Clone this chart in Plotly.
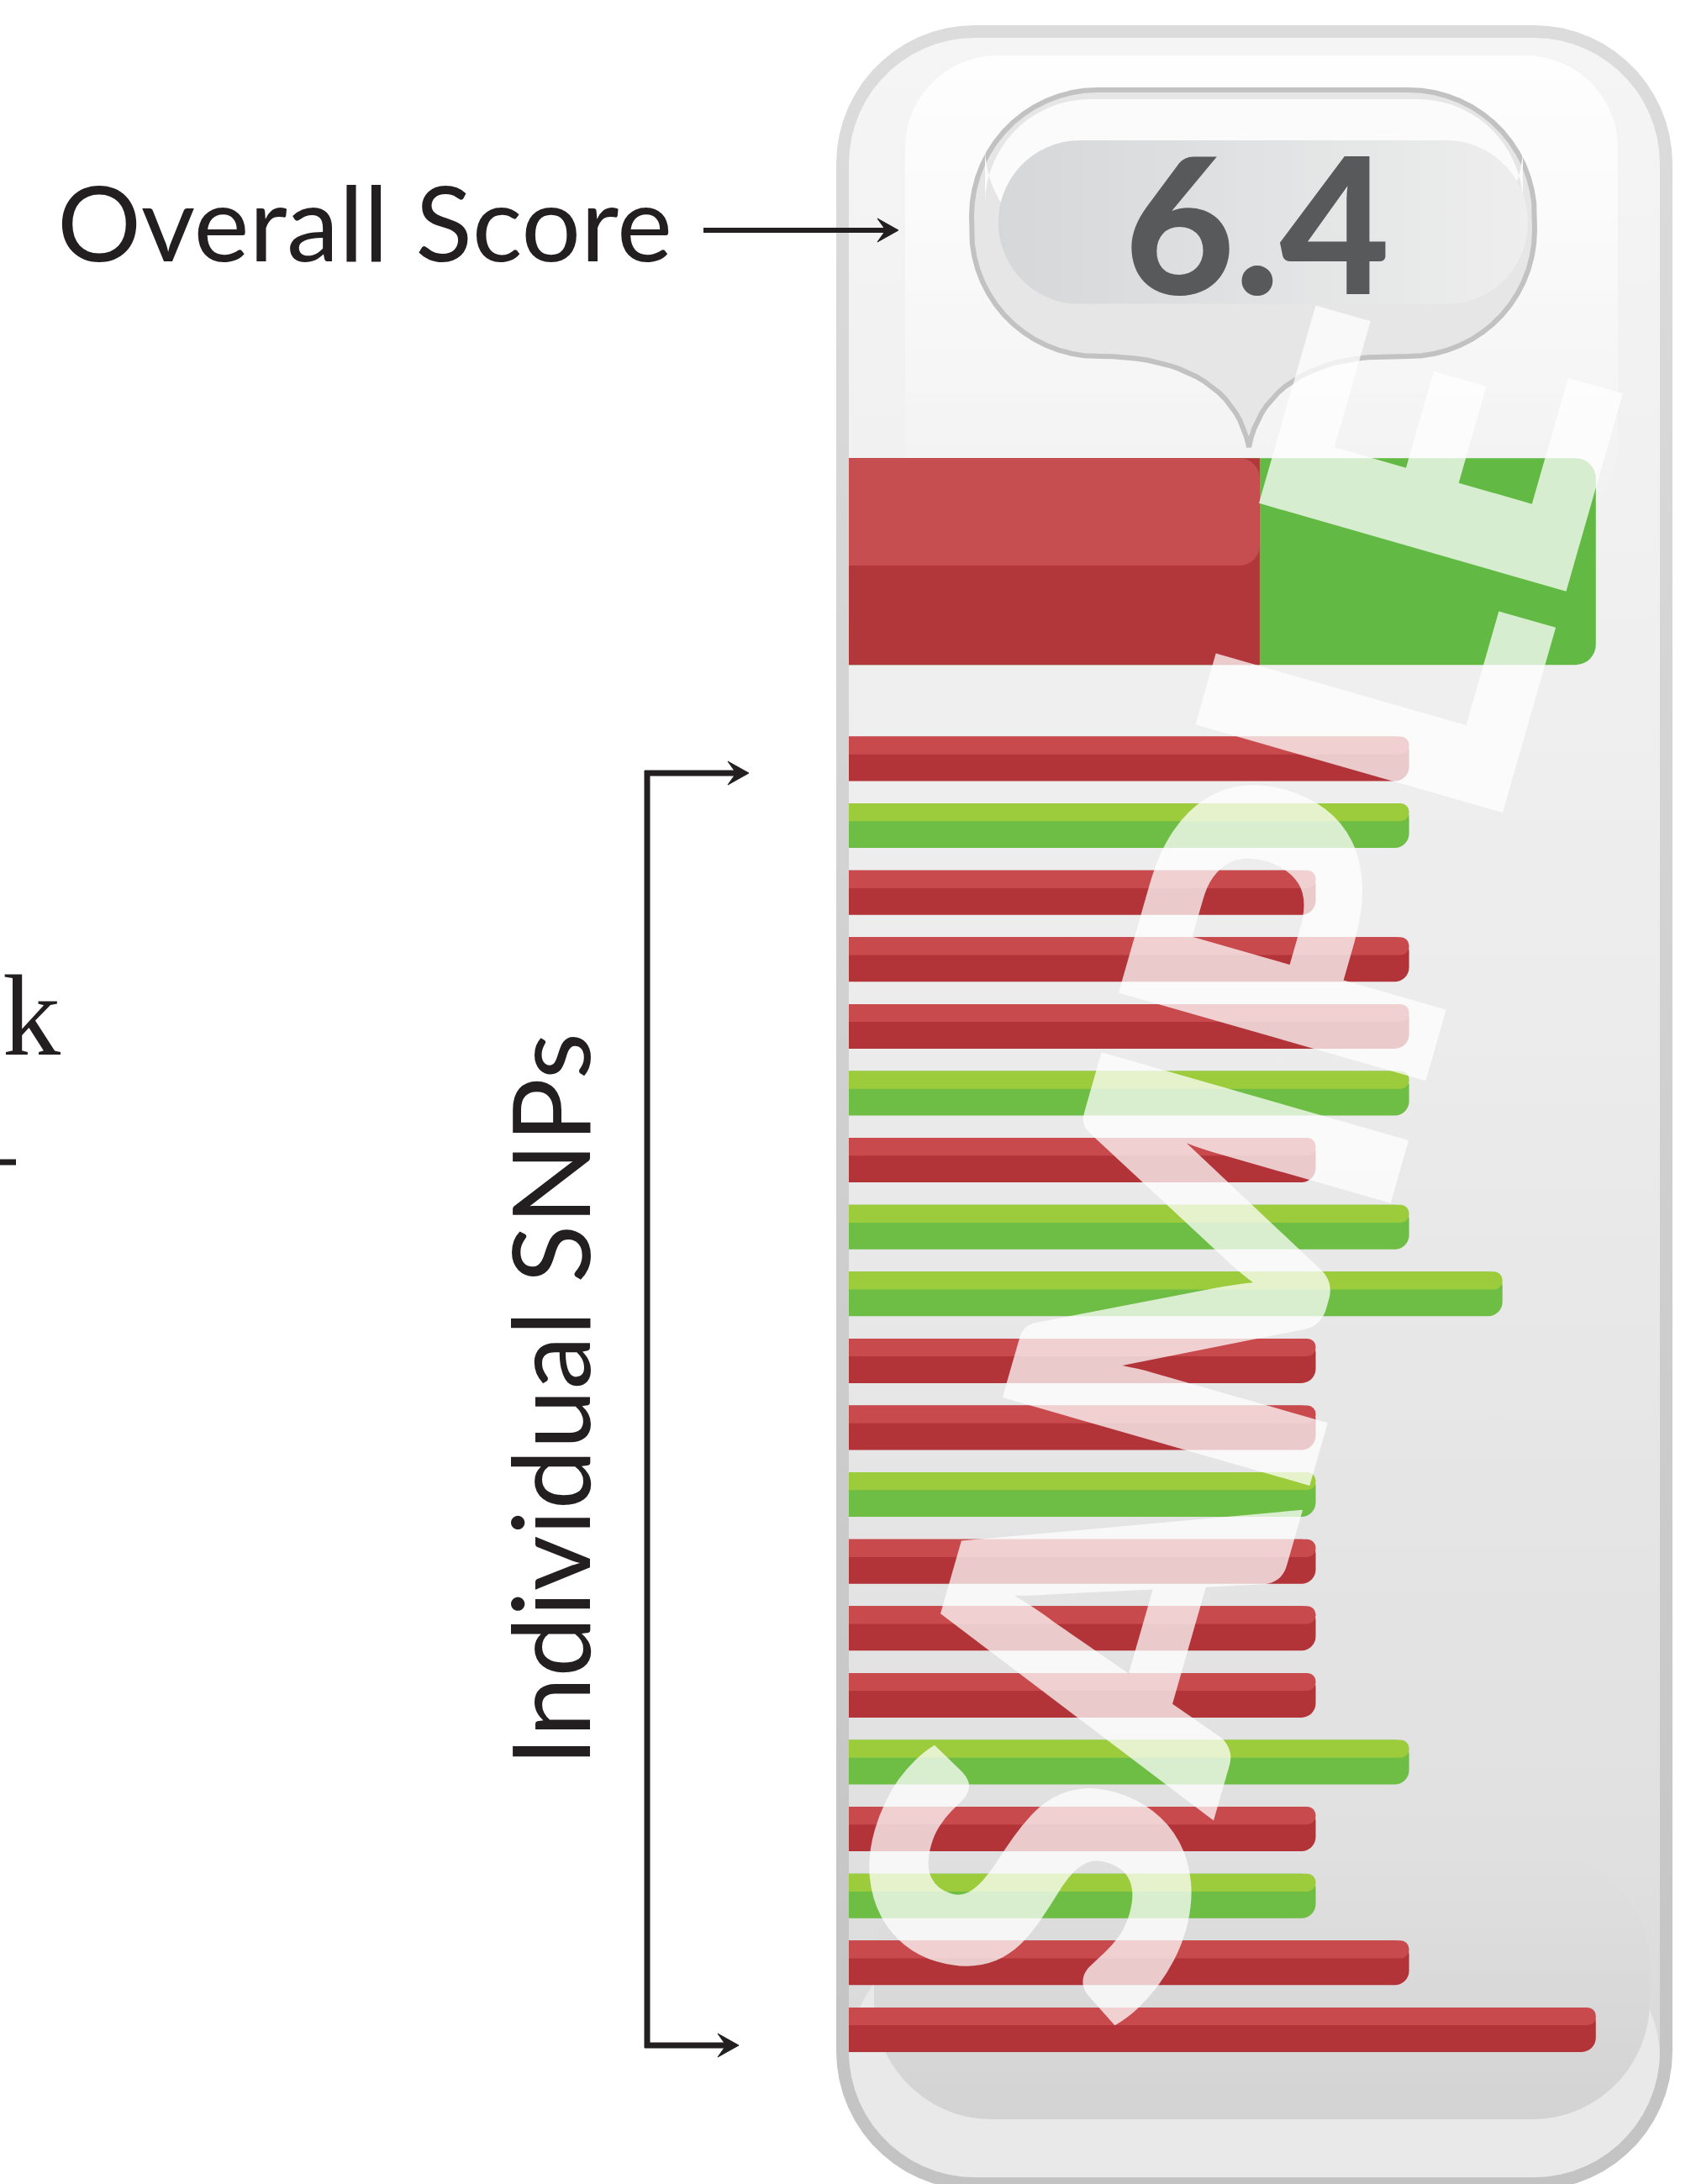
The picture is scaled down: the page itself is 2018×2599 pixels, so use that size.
import numpy as np
import plotly.graph_objects as go

W, H = 2018, 2599

# ---------------- data ----------------
snp_effect = ["risk", "protective", "risk", "risk", "risk", "protective", "risk",
              "protective", "protective", "risk", "risk", "protective", "risk",
              "risk", "risk", "protective", "risk", "protective", "risk", "risk"]
snp_value = [6, 6, 5, 6, 6, 6, 5, 6, 7, 5, 5, 5, 5, 5, 5, 6, 5, 5, 6, 8]
snp_position = list(range(1, 21))

overall_score_text = "6.4"
overall_risk = 4.4
overall_protective = 3.6
overall_position = -1.95

label_overall = "Overall Score"
label_snps = "Individual SNPs"
cut_label = "k"
watermark = "SAMPLE"

# ---------------- layout geometry (pixels) ----------------
X0_PX, UNIT_PX = 1010, 111.1     # pixel of value 0, pixels per unit
Y1_PX, ROW_PX = 903, 79.6        # pixel centre of position 1, pixels per row
x_range = [-X0_PX / UNIT_PX, (W - X0_PX) / UNIT_PX]
y_range = [1 + (H - Y1_PX) / ROW_PX, 1 - Y1_PX / ROW_PX]

INK = "#231f20"
colors = {"risk": ("#b23439", "#c84a4d"), "protective": ("#6ebd44", "#9ccb3c")}


def px(x):
    return x / W


def py(y):
    return 1 - y / H


def arc(cx, cy, r, a0, a1, n=16):
    t = np.radians(np.linspace(a0, a1, n))
    return list(zip(cx + r * np.cos(t), cy + r * np.sin(t)))


def rr_pts(x0, y0, x1, y1, r):
    pts = []
    pts += arc(x1 - r, y0 + r, r, -90, 0)
    pts += arc(x1 - r, y1 - r, r, 0, 90)
    pts += arc(x0 + r, y1 - r, r, 90, 180)
    pts += arc(x0 + r, y0 + r, r, 180, 270)
    pts.append(pts[0])
    return pts


def cubic(p0, p1, p2, p3, n=20):
    t = np.linspace(0, 1, n)[:, None]
    p0, p1, p2, p3 = map(np.array, (p0, p1, p2, p3))
    pts = (1 - t) ** 3 * p0 + 3 * (1 - t) ** 2 * t * p1 + 3 * (1 - t) * t ** 2 * p2 + t ** 3 * p3
    return [tuple(p) for p in pts]


def poly(pts, fill=None, grad=None, line_color=None, line_width=0):
    xs, ys = zip(*pts)
    kw = dict(x=list(xs), y=list(ys), mode="lines", fill="toself", hoverinfo="skip",
              showlegend=False,
              line=dict(width=line_width, color=line_color or "rgba(0,0,0,0)"),
              xaxis="x", yaxis="y")
    if grad is not None:
        kw["fillgradient"] = grad
    else:
        kw["fillcolor"] = fill
    return go.Scatter(**kw)


def vgrad(stops, y0, y1):
    return dict(type="vertical", colorscale=stops, start=y0, stop=y1)


def hgrad(stops, x0, x1):
    return dict(type="horizontal", colorscale=stops, start=x0, stop=x1)


fig = go.Figure()

# ---------------- container (decor on base axes, pixel units) ----------------
fig.add_trace(poly(rr_pts(995, 30, 1990, 2606, 165),
                   grad=vgrad([[0, "#dcdcdc"], [1, "#c3c3c3"]], 30, 2606)))
fig.add_trace(poly(rr_pts(1010, 45, 1975, 2591, 150),
                   grad=vgrad([[0, "#f5f5f5"], [0.45, "#ececec"], [0.85, "#e0e0e0"],
                               [1, "#d6d6d6"]], 45, 2591)))
fig.add_trace(poly(rr_pts(1077, 66, 1925, 640, 110),
                   grad=vgrad([[0, "rgba(255,255,255,0.9)"], [1, "rgba(255,255,255,0)"]], 66, 640)))
# floor
fig.add_trace(poly(rr_pts(1010, 2300, 1975, 2591, 150), fill="#e9e9e9"))
fig.add_trace(poly(rr_pts(1040, 2200, 1963, 2522, 140),
                   grad=vgrad([[0, "#e0e0e0"], [1, "#d3d3d3"]], 2200, 2522)))

# ---------------- speech bubble ----------------
bx0, by0, bx1, by1, br = 1156, 107, 1826, 424, 150
bubble = []
bubble += arc(bx1 - br, by0 + br, br, -90, 0)
bubble += arc(bx1 - br, by1 - br, br, 0, 90)
bubble += cubic((1655, by1), (1565, by1), (1500, 460), (1486, 532))
bubble += cubic((1486, 532), (1472, 460), (1405, by1), (1310, by1))
bubble += arc(bx0 + br, by1 - br, br, 90, 180)
bubble += arc(bx0 + br, by0 + br, br, 180, 270)
bubble.append(bubble[0])
fig.add_trace(poly(bubble, fill="#e6e6e6", line_color="#c2c2c2", line_width=6))
fig.add_trace(poly(rr_pts(1172, 118, 1812, 300, 125), fill="#fbfbfb"))
fig.add_trace(poly(rr_pts(1188, 167, 1818, 362, 97),
                   grad=hgrad([[0, "#d5d7d8"], [1, "#eeeeee"]], 1188, 1818)))

# ---------------- bars (data, overlay axes) ----------------
total_overall = overall_risk + overall_protective
ov_w = 246 / ROW_PX
fig.add_trace(go.Bar(x=[total_overall], y=[overall_position], orientation="h", width=ov_w,
                     marker=dict(color="#62ba45", cornerradius=24, line=dict(width=0)),
                     xaxis="x2", yaxis="y2", hoverinfo="skip", showlegend=False))
fig.add_trace(go.Bar(x=[overall_risk], y=[overall_position], orientation="h", width=ov_w,
                     marker=dict(color="#b2373a", cornerradius=24, line=dict(width=0)),
                     xaxis="x2", yaxis="y2", hoverinfo="skip", showlegend=False))
fig.add_trace(go.Bar(x=[overall_risk], y=[overall_position], orientation="h",
                     width=ov_w * 0.52, offset=-ov_w / 2,
                     marker=dict(color="#c74e50", cornerradius=24, line=dict(width=0)),
                     xaxis="x2", yaxis="y2", hoverinfo="skip", showlegend=False))

bw = 53 / ROW_PX
fig.add_trace(go.Bar(x=snp_value, y=snp_position, orientation="h", width=bw,
                     marker=dict(color=[colors[e][0] for e in snp_effect], cornerradius=17,
                                 line=dict(width=0)),
                     xaxis="x2", yaxis="y2", hoverinfo="skip", showlegend=False))
fig.add_trace(go.Bar(x=snp_value, y=snp_position, orientation="h", width=bw * 0.4,
                     offset=-bw / 2,
                     marker=dict(color=[colors[e][1] for e in snp_effect], cornerradius=10,
                                 line=dict(width=0)),
                     xaxis="x2", yaxis="y2", hoverinfo="skip", showlegend=False))

# ---------------- arrows / bracket ----------------
shapes = []


def seg(x0, y0, x1, y1, w=7):
    shapes.append(dict(type="line", xref="paper", yref="paper", x0=px(x0), y0=py(y0),
                       x1=px(x1), y1=py(y1), line=dict(color=INK, width=w), layer="above"))


def head(xt, yt):
    pts = [(xt, yt), (xt - 25, yt - 14), (xt - 15, yt), (xt - 25, yt + 14)]
    path = "M" + " L".join(f"{px(a):.6f},{py(b):.6f}" for a, b in pts) + " Z"
    shapes.append(dict(type="path", xref="paper", yref="paper", path=path,
                       fillcolor=INK, line=dict(color=INK, width=1), layer="above"))


seg(837, 274, 1060, 274, 6)
head(1069, 274)
seg(770, 917, 770, 2437)
seg(767, 920, 880, 920)
head(891, 920)
seg(767, 2434, 868, 2434)
head(879, 2434)
seg(0, 1383, 19, 1383, 7)

# ---------------- text ----------------
ann = [
    dict(text=label_overall, x=px(66), y=py(263), xanchor="left", yanchor="middle",
         font=dict(family="Lato", size=125, color=INK)),
    dict(text=label_snps, x=px(652), y=py(1666), xanchor="center", yanchor="middle",
         textangle=-90, font=dict(family="Lato", size=128, color=INK)),
    dict(text=cut_label, x=px(74), y=py(1208), xanchor="right", yanchor="middle",
         font=dict(family="Liberation Serif", size=138, color=INK)),
    dict(text=overall_score_text, x=px(1496), y=py(263), xanchor="center", yanchor="middle",
         font=dict(family="Lato", size=226, color="#58595b", weight=900)),
    dict(text=watermark, x=px(1458), y=py(1385), xanchor="center", yanchor="middle",
         textangle=-74, font=dict(family="Lato", size=522, color="rgba(255,255,255,0.74)",
                                  weight=800)),
]
for a in ann:
    a.update(xref="paper", yref="paper", showarrow=False)

fig.update_layout(
    width=W, height=H, margin=dict(l=0, r=0, t=0, b=0),
    paper_bgcolor="white", plot_bgcolor="rgba(0,0,0,0)",
    showlegend=False, barmode="overlay",
    xaxis=dict(range=[0, W], domain=[0, 1], visible=False, fixedrange=True),
    yaxis=dict(range=[H, 0], domain=[0, 1], visible=False, fixedrange=True),
    xaxis2=dict(range=x_range, overlaying="x", anchor="y2", visible=False, fixedrange=True),
    yaxis2=dict(range=y_range, overlaying="y", anchor="x2", visible=False, fixedrange=True),
    shapes=shapes, annotations=ann,
)

fig.write_html("out.html")
